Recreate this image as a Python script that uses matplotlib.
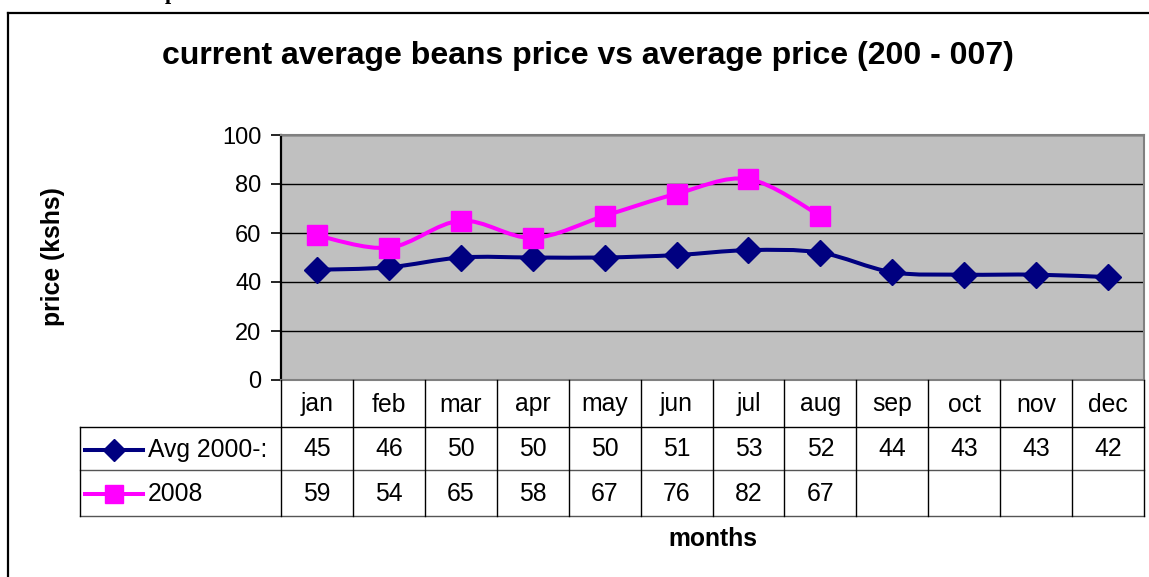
import matplotlib
matplotlib.use("Agg")
import matplotlib.pyplot as plt
from matplotlib.path import Path
from matplotlib.patches import PathPatch
from matplotlib.lines import Line2D
import numpy as np

plt.rcParams['font.family'] = ['Liberation Sans', 'DejaVu Sans']

months = ["jan", "feb", "mar", "apr", "may", "jun", "jul", "aug", "sep", "oct", "nov", "dec"]
avg_vals = [45, 46, 50, 50, 50, 51, 53, 52, 44, 43, 43, 42]
vals_2008 = [59, 54, 65, 58, 67, 76, 82, 67]
series_names = ["Avg 2000-:", "2008"]
title = "current average beans price vs average price (200 - 007)"
yticks = [0, 20, 40, 60, 80, 100]

W, H = 1149, 577
fig = plt.figure(figsize=(W / 100, H / 100), dpi=100)


def fx(px):
    return px / W


def fy(py):
    return 1 - py / H


FS = 17.8
AX_L, AX_R, AX_T, AX_B = 281, 1144, 135, 380
ax = fig.add_axes([fx(AX_L), fy(AX_B), fx(AX_R) - fx(AX_L), fy(AX_T) - fy(AX_B)])
ax.set_facecolor("#C0C0C0")
ax.set_xlim(-0.5, len(months) - 0.5)
ax.set_ylim(0, 100)
ax.set_yticks(yticks)
ax.set_xticks([])
ax.grid(axis="y", color="black", linewidth=1.0)
ax.set_axisbelow(True)
for s in ["top", "right", "bottom"]:
    ax.spines[s].set_color("#808080")
    ax.spines[s].set_linewidth(1.5)
ax.spines["left"].set_color("black")
ax.spines["left"].set_linewidth(1.6)
ax.tick_params(axis="y", labelsize=17, length=7, width=1.2, pad=7, direction="out")


def smooth_path(xs, ys):
    pts = np.column_stack([xs, ys]).astype(float)
    n = len(pts)
    verts = [pts[0]]
    codes = [Path.MOVETO]
    for i in range(n - 1):
        p0 = pts[i - 1] if i > 0 else pts[i]
        p1 = pts[i]
        p2 = pts[i + 1]
        p3 = pts[i + 2] if i + 2 < n else pts[i + 1]
        c1 = p1 + (p2 - p0) / 6.0
        c2 = p2 - (p3 - p1) / 6.0
        verts += [c1, c2, p2]
        codes += [Path.CURVE4] * 3
    return Path(verts, codes)


NAVY = "#000080"
MAG = "#FF00FF"
LW = 2.9
DMS = 13.0
SMS = 15.0
x_avg = np.arange(len(avg_vals))
x_08 = np.arange(len(vals_2008))
ax.add_patch(PathPatch(smooth_path(x_avg, avg_vals), fill=False, edgecolor=NAVY,
                       linewidth=LW, zorder=3, transform=ax.transData))
ax.add_patch(PathPatch(smooth_path(x_08, vals_2008), fill=False, edgecolor=MAG,
                       linewidth=LW, zorder=3, transform=ax.transData))
ax.plot(x_avg, avg_vals, linestyle="none", marker="D", markersize=DMS,
        color=NAVY, zorder=4, clip_on=False)
ax.plot(x_08, vals_2008, linestyle="none", marker="s", markersize=SMS,
        color=MAG, zorder=4, clip_on=False)

fig.text(fx(53), fy(257), "price (kshs)", rotation=90, ha="center", va="center",
         fontsize=FS, fontweight="bold")

# ---- data table ----
ROW_Y = [380, 427, 470, 516]
TAB_L = 80
col_w = (AX_R - AX_L) / len(months)
lc = "black"
lw = 1.0


def hline(y, x0, x1, color=lc):
    fig.add_artist(Line2D([fx(x0), fx(x1)], [fy(y), fy(y)], color=color, linewidth=lw))


def vline(x, y0, y1, color=lc):
    fig.add_artist(Line2D([fx(x), fx(x)], [fy(y0), fy(y1)], color=color, linewidth=lw))


hline(ROW_Y[1], TAB_L, AX_R)
hline(ROW_Y[2], TAB_L, AX_R, color="#555555")
hline(ROW_Y[3], TAB_L, AX_R, color="#555555")
vline(TAB_L, ROW_Y[1], ROW_Y[3])
for i in range(len(months) + 1):
    vline(AX_L + i * col_w, ROW_Y[0], ROW_Y[3])

for i, m in enumerate(months):
    cx = AX_L + (i + 0.5) * col_w
    fig.text(fx(cx), fy((ROW_Y[0] + ROW_Y[1]) / 2 + 1), m, ha="center", va="center", fontsize=FS)
    fig.text(fx(cx), fy((ROW_Y[1] + ROW_Y[2]) / 2 + 1), str(avg_vals[i]), ha="center",
             va="center", fontsize=FS)
    if i < len(vals_2008):
        fig.text(fx(cx), fy((ROW_Y[2] + ROW_Y[3]) / 2 + 1), str(vals_2008[i]), ha="center",
                 va="center", fontsize=FS)

# legend keys
for r, (name, col, mk, ms) in enumerate([(series_names[0], NAVY, "D", 11.5),
                                          (series_names[1], MAG, "s", 12.5)]):
    yc = (ROW_Y[1 + r] + ROW_Y[2 + r]) / 2 + 1
    fig.add_artist(Line2D([fx(85), fx(143)], [fy(yc), fy(yc)], color=col, linewidth=LW))
    fig.add_artist(Line2D([fx(114)], [fy(yc)], color=col, marker=mk, markersize=ms,
                          linestyle="none"))
    fig.text(fx(148), fy(yc), name, ha="left", va="center", fontsize=FS)

fig.text(fx(713), fy(539), "months", ha="center", va="center", fontsize=FS,
         fontweight="bold")
fig.text(fx(588), fy(56), title, ha="center", va="center", fontsize=23,
         fontweight="bold")

# outer chart border (top and left visible)
fig.add_artist(Line2D([fx(8), fx(W + 5)], [fy(13), fy(13)], color="black", linewidth=1.6))
fig.add_artist(Line2D([fx(8), fx(8)], [fy(13), fy(H + 5)], color="black", linewidth=1.6))

# cut-off text fragment at the top
fig.text(fx(165), fy(-1), "p", ha="left", va="baseline", fontsize=16,
         fontweight="bold", family="Liberation Serif")

fig.savefig("out.png", dpi=100)
